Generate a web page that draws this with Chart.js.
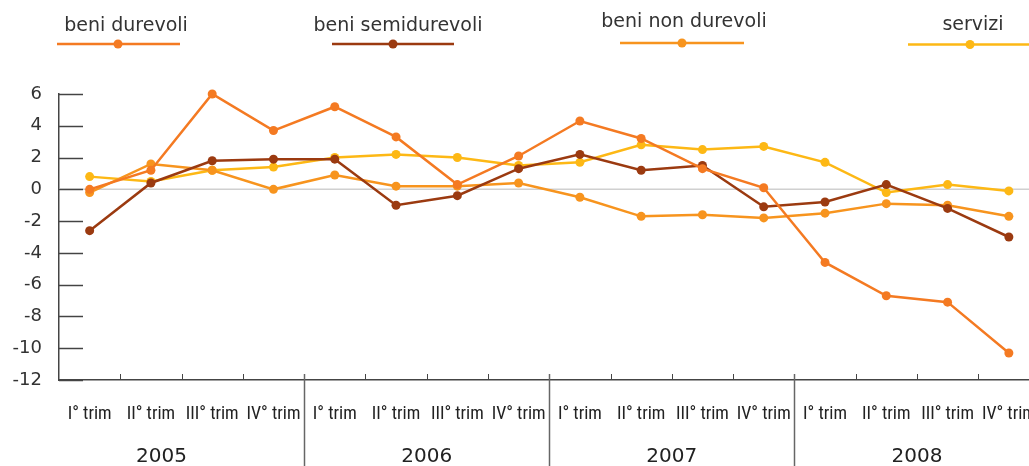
<!DOCTYPE html>
<html>
<head>
<meta charset="utf-8">
<script src="https://cdn.jsdelivr.net/npm/chart.js@4.4.0/dist/chart.umd.min.js"></script>
<style>
  html, body { margin: 0; padding: 0; background: #fff; overflow: hidden; }
  #wrap { width: 1044px; height: 466px; }
</style>
</head>
<body>
<div id="wrap"><canvas id="myChart" width="1044" height="466"></canvas></div>
<script>
// data
const quarters = ['I° trim', 'II° trim', 'III° trim', 'IV° trim'];
const years = ['2005', '2006', '2007', '2008'];
const categories = years.flatMap(() => quarters);
const yTickValues = [6, 4, 2, 0, -2, -4, -6, -8, -10, -12];

const beniDurevoli = [0, 1.2, 6.0, 3.7, 5.2, 3.3, 0.3, 2.1, 4.3, 3.2, 1.3, 0.1, -4.6, -6.7, -7.1, -10.3];
const beniSemidurevoli = [-2.6, 0.4, 1.8, 1.9, 1.9, -1.0, -0.4, 1.3, 2.2, 1.2, 1.5, -1.1, -0.8, 0.3, -1.2, -3.0];
const beniNonDurevoli = [-0.2, 1.6, 1.2, 0.0, 0.9, 0.2, 0.2, 0.4, -0.5, -1.7, -1.6, -1.8, -1.5, -0.9, -1.0, -1.7];
const servizi = [0.8, 0.5, 1.2, 1.4, 2.0, 2.2, 2.0, 1.5, 1.7, 2.8, 2.5, 2.7, 1.7, -0.2, 0.3, -0.1];

const textFont = '"DejaVu Sans", sans-serif';

function series(label, data, color) {
  return {
    label: label,
    data: data,
    borderColor: color,
    backgroundColor: color,
    borderWidth: 2.5,
    pointRadius: 4.5,
    pointHoverRadius: 4.5,
    pointBorderWidth: 0,
    tension: 0,
    clip: false
  };
}

// legend above the plot: text, then a line with a dot
const legendSpots = [
  { tx: 126, ty: 31, x1: 57, x2: 180, dot: 118, ly: 44 },
  { tx: 398, ty: 31, x1: 332, x2: 454, dot: 393, ly: 44 },
  { tx: 684, ty: 27, x1: 620, x2: 744, dot: 682, ly: 43 },
  { tx: 973, ty: 30, x1: 908, x2: 1044, dot: 970, ly: 44.5 }
];

const frame = {
  id: 'frame',
  beforeDatasetsDraw(chart) {
    const ctx = chart.ctx;
    const a = chart.chartArea;
    const x = chart.scales.x;
    const y = chart.scales.y;
    ctx.save();

    // zero line
    ctx.strokeStyle = '#d0d0d0';
    ctx.lineWidth = 1.5;
    ctx.beginPath();
    ctx.moveTo(a.left, y.getPixelForValue(0));
    ctx.lineTo(a.right, y.getPixelForValue(0));
    ctx.stroke();

    // short y ticks inside the plot
    ctx.strokeStyle = '#444';
    ctx.lineWidth = 1.5;
    yTickValues.forEach(function (v) {
      const py = Math.round(y.getPixelForValue(v)) + 0.5;
      ctx.beginPath();
      ctx.moveTo(a.left, py);
      ctx.lineTo(a.left + 24, py);
      ctx.stroke();
    });

    // ticks between quarters, separators between years
    for (let i = 1; i < categories.length; i++) {
      const px = Math.round((x.getPixelForValue(i - 1) + x.getPixelForValue(i)) / 2) + 0.5;
      ctx.beginPath();
      if (i % 4 === 0) {
        ctx.strokeStyle = '#666';
        ctx.lineWidth = 1.5;
        ctx.moveTo(px, a.bottom - 6);
        ctx.lineTo(px, chart.height);
      } else {
        ctx.strokeStyle = '#444';
        ctx.lineWidth = 1;
        ctx.moveTo(px, a.bottom - 6);
        ctx.lineTo(px, a.bottom);
      }
      ctx.stroke();
    }

    // year labels
    ctx.fillStyle = '#222';
    ctx.font = '20px ' + textFont;
    ctx.textAlign = 'center';
    ctx.textBaseline = 'middle';
    const half = (x.getPixelForValue(1) - x.getPixelForValue(0)) / 2;
    years.forEach(function (yr, k) {
      const from = k === 0 ? a.left - 40 : x.getPixelForValue(k * 4) - half;
      const to = x.getPixelForValue(k * 4 + 3) + half;
      ctx.fillText(yr, (from + to) / 2, 457);
    });
    ctx.restore();
  },
  afterDraw(chart) {
    const ctx = chart.ctx;
    ctx.save();
    chart.data.datasets.forEach(function (ds, i) {
      const s = legendSpots[i];
      ctx.fillStyle = '#333';
      ctx.font = '19px ' + textFont;
      ctx.textAlign = 'center';
      ctx.textBaseline = 'alphabetic';
      ctx.fillText(ds.label, s.tx, s.ty);
      ctx.strokeStyle = ds.borderColor;
      ctx.lineWidth = 2.5;
      ctx.beginPath();
      ctx.moveTo(s.x1, s.ly);
      ctx.lineTo(s.x2, s.ly);
      ctx.stroke();
      ctx.fillStyle = ds.borderColor;
      ctx.beginPath();
      ctx.arc(s.dot, s.ly, 4.5, 0, Math.PI * 2);
      ctx.fill();
    });
    ctx.restore();
  }
};

const ctx = document.getElementById('myChart').getContext('2d');

const chart = new Chart(ctx, {
  type: 'line',
  data: {
    labels: categories,
    datasets: [
      series('beni durevoli', beniDurevoli, '#F47A22'),
      series('beni semidurevoli', beniSemidurevoli, '#9B3A10'),
      series('beni non durevoli', beniNonDurevoli, '#F7941E'),
      series('servizi', servizi, '#FDB815')
    ]
  },
  options: {
    responsive: false,
    animation: false,
    layout: { padding: { top: 94, right: 0, left: 0, bottom: 0 } },
    plugins: {
      legend: { display: false },
      tooltip: { enabled: false }
    },
    scales: {
      x: {
        offset: true,
        grid: { display: false, drawTicks: false },
        border: { display: true, color: '#444', width: 1.5 },
        ticks: {
          color: '#222',
          padding: 24,
          autoSkip: false,
          maxRotation: 0,
          font: { family: '"Liberation Sans Narrow", "Roboto Condensed", Roboto, sans-serif', size: 18 }
        },
        afterFit: function (scale) {
          scale.height = 86;
          scale.paddingLeft = 0;
          scale.paddingRight = 0;
        }
      },
      y: {
        min: -12,
        max: 6,
        grid: { display: false, drawTicks: false },
        border: { display: true, color: '#444', width: 1.5 },
        afterBuildTicks: function (scale) {
          scale.ticks = yTickValues.map(function (v) { return { value: v }; });
        },
        ticks: {
          color: '#333',
          padding: 17,
          font: { family: textFont, size: 18 }
        },
        afterFit: function (scale) { scale.width = 59; }
      }
    }
  },
  plugins: [frame]
});
</script>
</body>
</html>
